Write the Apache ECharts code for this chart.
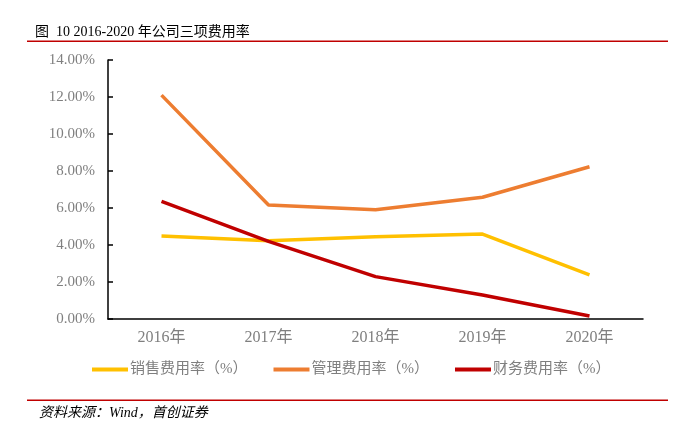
<!DOCTYPE html>
<html><head><meta charset="utf-8">
<script src="https://cdn.jsdelivr.net/npm/echarts@6/dist/echarts.min.js"></script>
<style>html,body{margin:0;padding:0;background:#fff}#c{width:692px;height:425px}</style>
</head><body><div id="c"></div>
<script>
const categories = ['2016年','2017年','2018年','2019年','2020年'];
const salesRate = [4.49, 4.23, 4.45, 4.59, 2.38];
const adminRate = [12.10, 6.16, 5.90, 6.58, 8.23];
const financeRate = [6.36, 4.20, 2.29, 1.30, 0.16];
const seriesNames = ['销售费用率（%）','管理费用率（%）','财务费用率（%）'];
const colors = ['#FFC000','#ED7D31','#C00000'];

const chart = echarts.init(document.getElementById('c'));
const font = "'Liberation Serif','Noto Sans CJK SC',serif";
chart.setOption({
  animation:false,
  color:colors,
  grid:{left:108,right:49,top:60,bottom:106},
  xAxis:{type:'category',data:categories,boundaryGap:true,
    axisLine:{lineStyle:{color:'#000',width:1.5}},
    axisTick:{inside:true,length:5,lineStyle:{color:'#000',width:1.5}},
    axisLabel:{color:'#7f7f7f',fontSize:16,fontFamily:font,margin:11}},
  yAxis:{type:'value',min:0,max:14,interval:2,
    splitLine:{show:false},
    axisLine:{show:true,lineStyle:{color:'#000',width:1.5}},
    axisTick:{show:true,inside:true,length:5,lineStyle:{color:'#000',width:1.5}},
    axisLabel:{color:'#7f7f7f',fontSize:15,fontFamily:font,margin:13,formatter:v=>v.toFixed(2)+'%'}},
  legend:{left:92,top:362,padding:0,icon:'rect',itemWidth:36,itemHeight:4,itemGap:26,
    textStyle:{color:'#7f7f7f',fontSize:15,fontFamily:font,padding:[0,0,0,-3]},
    data:seriesNames},
  series:[
    {name:seriesNames[0],type:'line',data:salesRate,symbol:'none',lineStyle:{width:3.5}},
    {name:seriesNames[1],type:'line',data:adminRate,symbol:'none',lineStyle:{width:3.5}},
    {name:seriesNames[2],type:'line',data:financeRate,symbol:'none',lineStyle:{width:3.5}}
  ],
  graphic:[
    {type:'text',left:35,top:25,style:{text:'图  10 2016-2020 年公司三项费用率',font:"14px 'Liberation Serif','Noto Sans CJK SC'",fill:'#000'}},
    {type:'rect',shape:{x:27,y:40.5,width:641,height:1.5},style:{fill:'#C00000'}},
    {type:'rect',shape:{x:27,y:399.5,width:641,height:1.5},style:{fill:'#C00000'}},
    {type:'text',left:39,top:406,style:{text:'资料来源：Wind，首创证券',font:"italic 14px 'Liberation Serif','Noto Sans CJK SC'",fill:'#000'}}
  ]
});
</script></body></html>
